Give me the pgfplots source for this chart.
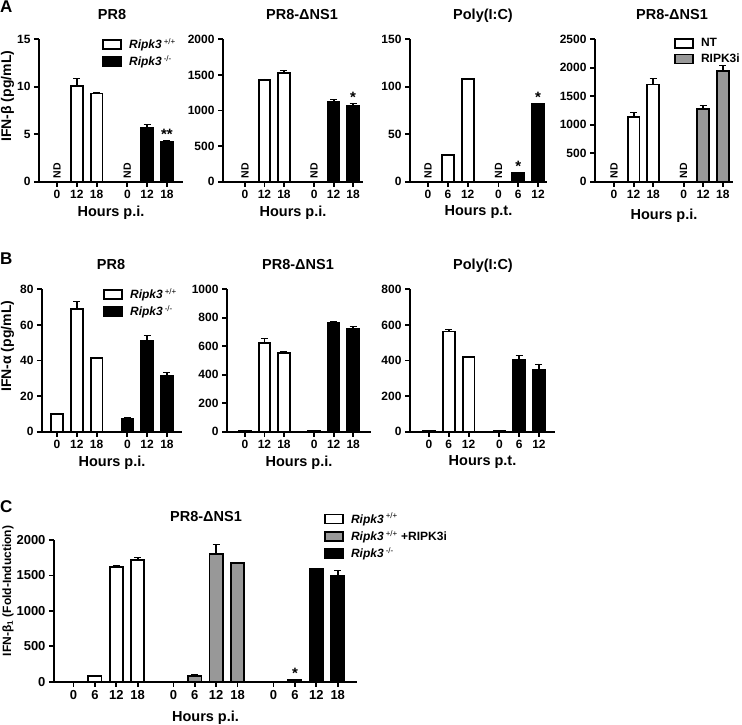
\documentclass[border=0pt]{standalone}
\usepackage{fontspec}
\setmainfont{Liberation Sans}
\usepackage{pgfplots}
\pgfplotsset{compat=1.18}

\definecolor{midgray}{RGB}{152,152,152}

\newcommand{\tickfont}{\bfseries\fontsize{12}{13}\selectfont}
\newcommand{\labfont}{\bfseries\fontsize{14.5}{16}\selectfont}
\newcommand{\ylabfont}{\bfseries\fontsize{14}{15}\selectfont}
\newcommand{\legfont}{\bfseries\fontsize{12}{13}\selectfont}
\newcommand{\wt}{\textit{Ripk3}\,\textsuperscript{\mdseries +/+}}
\newcommand{\ko}{\textit{Ripk3}\,\textsuperscript{\mdseries -/-}}

\pgfplotsset{
  panel/.style={
    scale only axis, anchor=south west,
    axis lines=left, axis line style={-, line width=1.8pt},
    ymin=0, clip=false,
    tick align=outside, major tick length=5pt,
    tick style={line width=1.8pt, black},
    ticklabel style={font=\tickfont},
    /pgf/number format/assume math mode=true,
    /pgf/number format/1000 sep={},
    xlabel style={font=\labfont},
    ylabel style={font=\ylabfont, anchor=center},
    xlabel={Hours p.i.},
    ybar, bar width=0.6,
    legend cell align=left,
    legend image code/.code={\draw[##1, line width=1.8pt] (0pt,-4.5pt) rectangle (18pt,4.5pt);
      \path[draw=none, fill=none] (24pt,0pt);},
    legend style={draw=none, fill=none, inner sep=0pt, anchor=north west,
      font=\legfont, row sep=1.5pt},
  },
  barbase/.style={draw=black, line width=1.8pt, bar shift=0pt,
    error bars/.cd, y dir=plus, y explicit,
    error bar style={line width=1.8pt, black, mark size=3.5pt}},
  wt/.style={fill=white, barbase},
  bk/.style={fill=black, barbase},
  gy/.style={fill=midgray, barbase},
}
\tikzset{
  nd/.style={rotate=90, anchor=west, inner sep=0pt, font=\bfseries\fontsize{10.5}{10.5}\selectfont},
  star/.style={anchor=base, inner sep=0pt, font=\bfseries\fontsize{15}{15}\selectfont},
}

\begin{document}
\begin{tikzpicture}
\useasboundingbox (0,0) rectangle (742pt,724pt);

% ---------------- A ----------------
\begin{axis}[panel, at={(39pt,542.3pt)}, width=144pt, height=142.4pt,
  xmin=-0.91, xmax=6.36, ymax=15, ytick={0,5,10,15},
  xtick={0,1,2,3.55,4.55,5.55}, xticklabels={0,12,18,0,12,18},
  ylabel={IFN-β (pg/mL)},
  ylabel style={at={(axis description cs:-0.219,0.6)}},
  legend style={at={(axis description cs:0.4375,1.02)}}]
\addplot[wt] table[x=x,y=y,y error=e] {
x y e
1 10.1 0.8
2 9.3 0.1
};
\addlegendentry{\wt}
\addplot[bk] table[x=x,y=y,y error=e] {
x y e
4.55 5.62 0.4
5.55 4.2 0.17
};
\addlegendentry{\ko}
\node[nd] at ([yshift=3pt]axis cs:0,0) {ND};
\node[nd] at ([yshift=3pt]axis cs:3.55,0) {ND};
\node[star] at ([yshift=1pt]axis cs:5.55,4.37) {**};
\end{axis}

\begin{axis}[panel, at={(223pt,542.3pt)}, width=140pt, height=142.4pt,
  xmin=-1.13, xmax=6.06, ymax=2000, ytick={0,500,1000,1500,2000},
  xtick={0,1,2,3.55,4.55,5.55}, xticklabels={0,12,18,0,12,18}]
\addplot[wt] table[x=x,y=y,y error=e] {
x y e
1 1425 20
2 1525 35
};
\addplot[bk] table[x=x,y=y,y error=e] {
x y e
4.55 1125 35
5.55 1065 38
};
\node[nd] at ([yshift=3pt]axis cs:0,0) {ND};
\node[nd] at ([yshift=3pt]axis cs:3.55,0) {ND};
\node[star] at ([yshift=1pt]axis cs:5.55,1103) {*};
\end{axis}

\begin{axis}[panel, at={(410pt,542.3pt)}, width=137pt, height=142.4pt,
  xmin=-0.91, xmax=6.0, ymax=150, ytick={0,50,100,150},
  xtick={0,1,2,3.55,4.55,5.55}, xticklabels={0,6,12,0,6,12},
  xlabel={Hours p.t.}]
\addplot[wt] table[x=x,y=y,y error=e] {
x y e
1 28.5 0
2 108.3 0.5
};
\addplot[bk] table[x=x,y=y,y error=e] {
x y e
4.55 9.2 0
5.55 81.5 0.8
};
\node[nd] at ([yshift=3pt]axis cs:0,0) {ND};
\node[nd] at ([yshift=3pt]axis cs:3.55,0) {ND};
\node[star] at ([yshift=1pt]axis cs:4.55,9.2) {*};
\node[star] at ([yshift=1pt]axis cs:5.55,82.3) {*};
\end{axis}

\begin{axis}[panel, at={(595pt,542.3pt)}, width=138pt, height=142.4pt,
  xmin=-0.97, xmax=6.07, ymax=2500, ytick={0,500,1000,1500,2000,2500},
  xtick={0,1,2,3.55,4.55,5.55}, xticklabels={0,12,18,0,12,18},
  xlabel style={yshift=-3pt},
  legend style={at={(axis description cs:0.572,1.02)}}]
\addplot[wt] table[x=x,y=y,y error=e] {
x y e
1 1135 90
2 1705 115
};
\addlegendentry{NT}
\addplot[gy] table[x=x,y=y,y error=e] {
x y e
4.55 1280 65
5.55 1950 95
};
\addlegendentry{RIPK3i}
\node[nd] at ([yshift=3pt]axis cs:0,0) {ND};
\node[nd] at ([yshift=3pt]axis cs:3.55,0) {ND};
\end{axis}

% ---------------- B ----------------
\begin{axis}[panel, at={(42pt,292.3pt)}, width=140pt, height=142.4pt,
  xmin=-0.76, xmax=6.31, ymax=80, ytick={0,20,40,60,80},
  xtick={0,1,2,3.55,4.55,5.55}, xticklabels={0,12,18,0,12,18},
  ylabel={IFN-α (pg/mL)},
  ylabel style={at={(axis description cs:-0.246,0.6)}},
  legend style={at={(axis description cs:0.436,1.02)}}]
\addplot[wt] table[x=x,y=y,y error=e] {
x y e
0 9.8 0
1 69 4.5
2 41.2 0
};
\addlegendentry{\wt}
\addplot[bk] table[x=x,y=y,y error=e] {
x y e
3.55 7.3 0.6
4.55 51 3.2
5.55 31.4 2.2
};
\addlegendentry{\ko}
\end{axis}

\begin{axis}[panel, at={(227pt,292.3pt)}, width=144pt, height=142.4pt,
  xmin=-0.92, xmax=6.46, ymax=1000, ytick={0,200,400,600,800,1000},
  xtick={0,1,2,3.55,4.55,5.55}, xticklabels={0,12,18,0,12,18}]
\addplot[wt] table[x=x,y=y,y error=e] {
x y e
0 5 0
1 625 30
2 553 10
};
\addplot[bk] table[x=x,y=y,y error=e] {
x y e
3.55 5 0
4.55 765 8
5.55 720 22
};
\end{axis}

\begin{axis}[panel, at={(410pt,292.3pt)}, width=145pt, height=142.4pt,
  xmin=-0.96, xmax=6.36, ymax=800, ytick={0,200,400,600,800},
  xtick={0,1,2,3.55,4.55,5.55}, xticklabels={0,6,12,0,6,12},
  xlabel={Hours p.t.}]
\addplot[wt] table[x=x,y=y,y error=e] {
x y e
0 4 0
1 563 15
2 421 3
};
\addplot[bk] table[x=x,y=y,y error=e] {
x y e
3.55 4 0
4.55 403 25
5.55 350 32
};
\end{axis}

% ---------------- C ----------------
\begin{axis}[panel, at={(54pt,42.3pt)}, width=303pt, height=141.7pt,
  xmin=-0.91, xmax=13.25, ymax=2000, ytick={0,500,1000,1500,2000},
  bar width=0.62,
  ticklabel style={font=\bfseries\fontsize{13}{14}\selectfont},
  xtick={0,1,2,3,4.67,5.67,6.67,7.67,9.35,10.35,11.35,12.35},
  xticklabels={0,6,12,18,0,6,12,18,0,6,12,18},
  xlabel style={yshift=-5pt},
  ylabel={IFN-β\textsubscript{1} (Fold-Induction)},
  ylabel style={font=\bfseries\fontsize{12}{13}\selectfont, at={(axis description cs:-0.152,0.64)}},
  legend style={at={(axis description cs:0.891,1.205)}}]
\addplot[wt] table[x=x,y=y,y error=e] {
x y e
1 80 0
2 1620 20
3 1718 40
};
\addlegendentry{\wt}
\addplot[gy] table[x=x,y=y,y error=e] {
x y e
5.67 80 20
6.67 1798 145
7.67 1670 15
};
\addlegendentry{\wt\ +RIPK3i}
\addplot[bk] table[x=x,y=y,y error=e] {
x y e
10.35 30 0
11.35 1590 0
12.35 1495 75
};
\addlegendentry{\ko}
\node[star] at ([yshift=1pt]axis cs:10.35,30) {*};
\end{axis}

% titles and panel letters
\begin{scope}[every node/.style={anchor=base, font=\labfont}]
\node at (112pt,704pt) {PR8};
\node at (302pt,704pt) {PR8-ΔNS1};
\node at (483pt,704pt) {Poly(I:C)};
\node at (672pt,704pt) {PR8-ΔNS1};
\node at (111pt,454pt) {PR8};
\node at (298pt,454pt) {PR8-ΔNS1};
\node at (483pt,454pt) {Poly(I:C)};
\node at (206pt,203pt) {PR8-ΔNS1};
\end{scope}
\begin{scope}[every node/.style={anchor=base west, inner sep=0pt, font=\bfseries\fontsize{17}{17}\selectfont}]
\node at (0pt,711pt) {A};
\node at (0pt,459pt) {B};
\node at (0pt,212pt) {C};
\end{scope}
\end{tikzpicture}
\end{document}
